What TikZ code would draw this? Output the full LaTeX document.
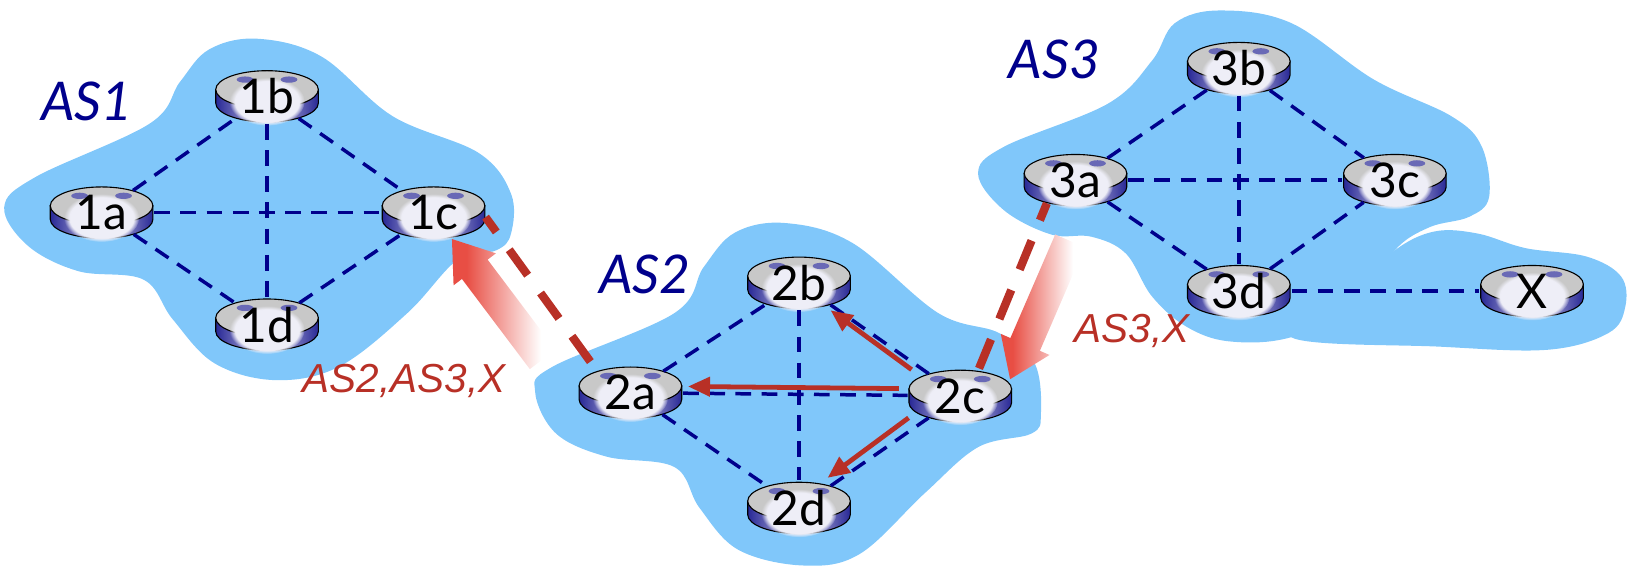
\documentclass[tikz,border=0pt]{standalone}
\usepackage{fontspec}
\setmainfont{Lato}
\newfontfamily\routefont{Liberation Sans}
\usetikzlibrary{shapes.geometric, shapes.arrows, arrows.meta, fadings}
\definecolor{cloudblue}{RGB}{128,199,250}
\definecolor{linknavy}{RGB}{0,0,140}
\definecolor{routered}{RGB}{184,48,38}
\definecolor{fadered}{RGB}{232,78,68}
\definecolor{sideblue}{RGB}{40,40,150}
\definecolor{topgray}{RGB}{200,200,200}
\pgfdeclarehorizontalshading{advertfade}{100bp}{color(0bp)=(fadered); color(25bp)=(fadered); color(32bp)=(fadered); color(68bp)=(white); color(100bp)=(white)}
\newcommand{\routerbox}[3]{%
  \begin{scope}[shift={(#2)}]
    \shade[draw=black, line width=0.6pt, left color=sideblue, right color=sideblue, middle color=white!80!sideblue]
      (-.98cm,.13cm) -- (-.98cm,-.13cm) arc[start angle=180, end angle=360, x radius=.98cm, y radius=.36cm] -- (.98cm,.13cm) -- cycle;
    \fill[topgray, draw=black, line width=0.6pt] (0cm,.13cm) ellipse [x radius=.98cm, y radius=.36cm];
    \fill[white!92!sideblue, path fading=circle with fuzzy edge 15 percent] (0cm,-.1cm) ellipse [x radius=.72cm, y radius=.46cm];
    \fill[sideblue!70] (-.42cm,.32cm) ellipse [x radius=.16cm, y radius=.06cm];
    \fill[sideblue!70] (.42cm,.32cm) ellipse [x radius=.16cm, y radius=.06cm];
  \end{scope}
  \node[router] (#1) at (#2) {#3};
}
\begin{document}
\begin{tikzpicture}[
    x=0.02cm, y=-0.02cm,
    router/.style={ellipse, inner sep=0pt, minimum width=2cm, minimum height=1.04cm, font=\fontsize{26}{30}\selectfont},
    cloud/.style={fill=cloudblue, smooth cycle, tension=0.6},
    aslabel/.style={text=linknavy, font=\fontsize{29}{34}\selectfont\itshape},
    pathlabel/.style={text=routered, font=\routefont\fontsize{22}{26}\selectfont\itshape},
    ibgp/.style={draw=linknavy, line width=1.9pt, dash pattern=on 0.3cm off 0.2cm},
    ebgp/.style={draw=routered, line width=4.5pt, dash pattern=on 0.6cm off 0.42cm, dash phase=0.25cm},
    advert/.style={draw=routered, line width=2.6pt, -{Triangle[length=0.42cm, width=0.36cm]}},
    flowarrow/.style={single arrow, inner sep=0pt, minimum height=2.88cm, minimum width=1cm,
      single arrow head extend=0.2cm, single arrow tip angle=70, shading=advertfade}
]
\useasboundingbox (0,0) rectangle (1568,544);
% the three areas
\fill[cloud] plot coordinates {(4,198) (34,169) (143,118) (172,78) (200,47) (246,37) (307,54) (375,111) (457,146) (488,185) (488,223) (474,239) (437,248) (389,299) (324,350) (263,363) (205,347) (165,305) (137,267) (75,259) (27,235)};
\fill[cloud] plot coordinates {(511,374) (528,350) (644,299) (672,255) (702,222) (750,213) (814,232) (896,299) (954,318) (988,347) (994,395) (985,414) (934,427) (883,471) (821,529) (767,540) (705,525) (668,485) (644,446) (579,436) (531,414)};
\fill[cloud] plot coordinates {(934,166) (959,140) (1058,99) (1100,58) (1122,22) (1165,10) (1233,22) (1312,76) (1386,111) (1415,140) (1422,188) (1403,207) (1365,217) (1332,239) (1300,290) (1233,322) (1174,326) (1133,312) (1100,283) (1075,242) (1042,226) (1004,224) (959,201)};
\fill[cloud] plot coordinates {(1332,239) (1370,221) (1411,223) (1457,237) (1515,245) (1548,264) (1552,293) (1536,318) (1478,334) (1374,331) (1233,322) (1290,280)};
\node[aslabel] (as1) at (83,97) {AS1};
\node[aslabel] (as2) at (616,262) {AS2};
\node[aslabel] (as3) at (1007,57) {AS3};
% routers
\routerbox{r1a}{97,203}{1a}
\routerbox{r1b}{255,92}{1b}
\routerbox{r1c}{414,203}{1c}
\routerbox{r1d}{255,310}{1d}
\routerbox{r2a}{602,375}{2a}
\routerbox{r2b}{763,270}{2b}
\routerbox{r2c}{917,378}{2c}
\routerbox{r2d}{763,485}{2d}
\routerbox{r3a}{1027,172}{3a}
\routerbox{r3b}{1183,65}{3b}
\routerbox{r3c}{1332,172}{3c}
\routerbox{r3d}{1183,278}{3d}
\routerbox{rx}{1463,278}{X}
% links inside each area
\foreach \a/\b in {r1a/r1b, r1b/r1c, r1a/r1c, r1a/r1d, r1d/r1c, r1b/r1d,
                   r2a/r2b, r2b/r2c, r2a/r2c, r2a/r2d, r2d/r2c, r2b/r2d,
                   r3a/r3b, r3b/r3c, r3a/r3c, r3a/r3d, r3d/r3c, r3b/r3d, r3d/rx}
  \draw[ibgp] (\a) -- (\b);
% wide arrows
\node[flowarrow, rotate=127] (advleft) at (481.5,294.5) {\rule{0pt}{0.6cm}};
\node[flowarrow, rotate=246.6] (advright) at (997.5,286) {\rule{0pt}{0.6cm}};
% links between areas
\draw[ebgp] (r1c.-5) -- (r2a.147);
\draw[ebgp] (r3a.219) -- (r2c.55);
% inside AS2
\draw[advert, shorten <=0.24cm, shorten >=0.12cm] (r2c.154) -- (r2b.-42);
\draw[advert, shorten <=0.2cm, shorten >=0.12cm] (r2c.172) -- (r2a.7);
\draw[advert, shorten <=0.2cm, shorten >=0.16cm] (r2c.200) -- (r2d.49);
\node[pathlabel] (pathleft) at (386,364) {AS2,AS3,X};
\node[pathlabel] (pathright) at (1081,316) {AS3,X};
\end{tikzpicture}
\end{document}
